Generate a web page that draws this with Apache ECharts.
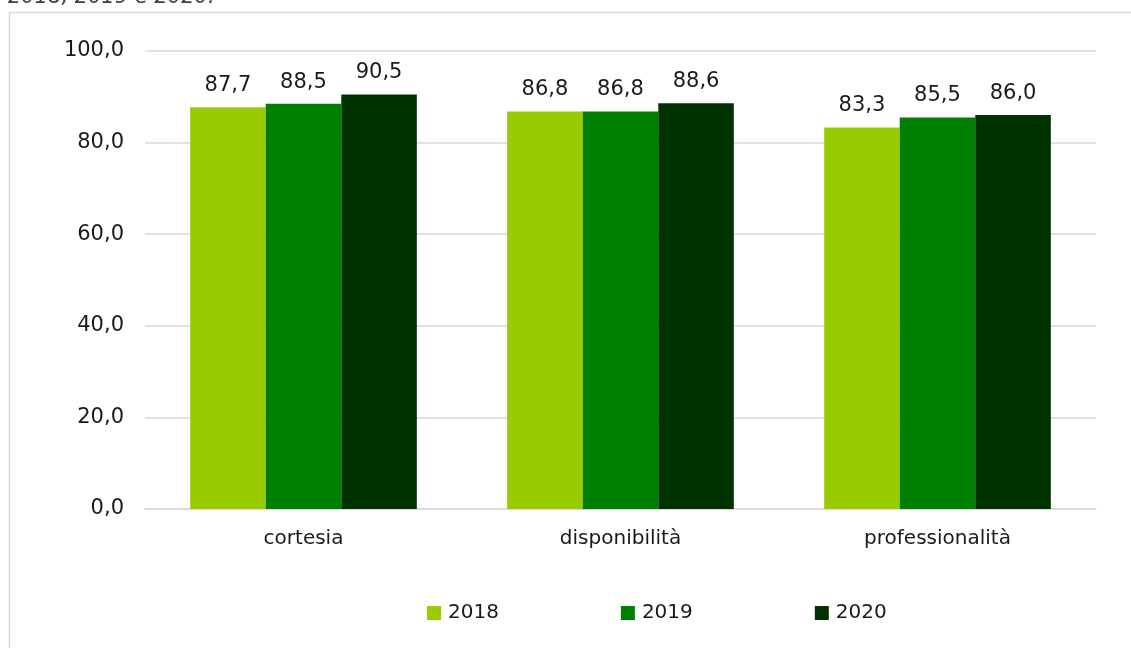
<!DOCTYPE html>
<html>
<head>
<meta charset="utf-8">
<script src="https://cdn.jsdelivr.net/npm/echarts@6/dist/echarts.min.js"></script>
<style>
  html, body { margin: 0; padding: 0; background: #fff; }
  #chart { width: 1131px; height: 648px; }
</style>
</head>
<body>
<div id="chart"></div>
<script>
// Customer satisfaction scores by aspect, three survey years
const categories = ['cortesia', 'disponibilità', 'professionalità'];
const years = ['2018', '2019', '2020'];
const values2018 = [87.7, 86.8, 83.3];
const values2019 = [88.5, 86.8, 85.5];
const values2020 = [90.5, 88.6, 86.0];
const yTicks = [0, 20, 40, 60, 80, 100];

const colors = ['#99cc00', '#008000', '#003300'];
const FONT = 'DejaVu Sans, Verdana, sans-serif';
const fmt = v => v.toFixed(1).replace('.', ',');

const seriesValues = [values2018, values2019, values2020];

const chart = echarts.init(document.getElementById('chart'), null, { renderer: 'canvas' });

chart.setOption({
  animation: false,
  backgroundColor: '#ffffff',
  graphic: [
    {
      type: 'rect',
      shape: { x: 9.5, y: 12.5, width: 1200, height: 700 },
      style: { fill: 'none', stroke: '#d9d9d9', lineWidth: 1.5 },
      silent: true,
      z: -10
    },
    {
      type: 'text',
      left: 8,
      top: -13,
      style: {
        text: '2018, 2019 e 2020.',
        font: 'italic 21px ' + FONT,
        fill: '#404040'
      },
      silent: true
    }
  ],
  grid: { left: 145, right: 35, top: 51, bottom: 139, containLabel: false },
  legend: {
    data: years,
    bottom: 20,
    left: 422,
    itemWidth: 14,
    itemHeight: 14,
    itemGap: 122,
    icon: 'rect',
    textStyle: { fontFamily: FONT, fontSize: 20, color: '#1a1a1a', padding: [0, 0, 0, 2] }
  },
  xAxis: {
    type: 'category',
    data: categories,
    axisLine: { show: true, lineStyle: { color: '#d9d9d9', width: 1.5 } },
    axisTick: { show: false },
    axisLabel: { fontFamily: FONT, fontSize: 20, color: '#1a1a1a', margin: 20 }
  },
  yAxis: {
    type: 'value',
    min: yTicks[0],
    max: yTicks[yTicks.length - 1],
    interval: yTicks[1] - yTicks[0],
    axisLine: { show: false },
    axisTick: { show: false },
    splitLine: { lineStyle: { color: '#d9d9d9', width: 1.5 } },
    axisLabel: {
      fontFamily: FONT, fontSize: 21, color: '#1a1a1a', margin: 21,
      formatter: v => fmt(v)
    }
  },
  series: years.map((y, i) => ({
    name: y,
    type: 'bar',
    data: seriesValues[i],
    barGap: '0%',
    barCategoryGap: '28.5%',
    itemStyle: { color: colors[i] },
    label: {
      show: true,
      position: 'top',
      distance: 11,
      fontFamily: FONT,
      fontSize: 21,
      color: '#1a1a1a',
      formatter: p => fmt(p.value)
    }
  }))
});
</script>
</body>
</html>
